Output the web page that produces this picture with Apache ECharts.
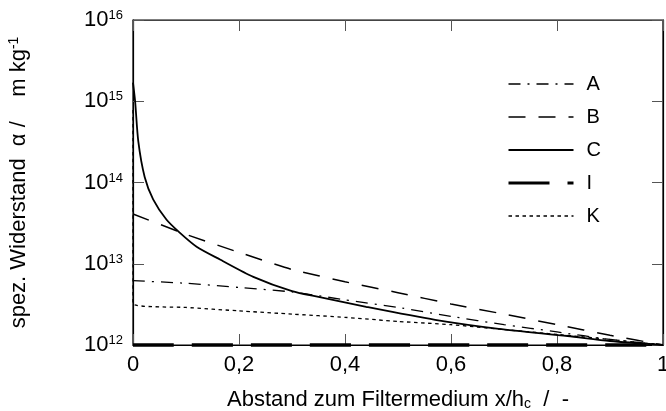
<!DOCTYPE html>
<html lang="de">
<head>
<meta charset="UTF-8">
<title>spez. Widerstand</title>
<script src="https://cdn.jsdelivr.net/npm/echarts@6/dist/echarts.min.js"></script>
<style>
  html, body { margin: 0; padding: 0; background: #fff; }
  #main { width: 666px; height: 411px; }
</style>
</head>
<body>
<div id="main"></div>
<script>
// x = Abstand zum Filtermedium x/hc, y = spez. Widerstand (log)
var seriesNames = ['A', 'B', 'C', 'I', 'K'];

var xA = [0, 0.1, 0.2, 0.3, 0.4, 0.5, 0.6, 0.7, 0.8, 0.9, 1.0];
var valA = [6.2e12, 5.75e12, 5.1e12, 4.5e12, 3.6e12, 2.9e12, 2.25e12, 1.78e12, 1.45e12, 1.17e12, 1.0e12];

var xB = [0, 0.1, 0.2, 0.3, 0.4, 0.5, 0.6, 0.7, 0.8, 0.9, 1.0];
var valB = [4.1e13, 2.3e13, 1.38e13, 8.5e12, 6.0e12, 4.4e12, 3.2e12, 2.4e12, 1.78e12, 1.32e12, 1.0e12];

var xC = [0, 0.004, 0.01, 0.022, 0.038, 0.063, 0.087, 0.12, 0.165, 0.227, 0.3, 0.35, 0.44, 0.57, 0.69, 0.82, 0.9, 1.0];
var valC = [1.7e15, 1.0e15, 3.2e14, 1.17e14, 6.2e13, 3.5e13, 2.45e13, 1.62e13, 1.12e13, 6.9e12, 4.6e12, 3.9e12, 2.95e12, 2.04e12, 1.58e12, 1.29e12, 1.12e12, 1.0e12];

var xI = [0, 1.0];
var valI = [1.0e12, 1.0e12];

var xK = [0, 0, 0.1, 0.2, 0.3, 0.4, 0.5, 0.6, 0.7, 0.8, 0.9, 1.0];
var valK = [7.8e14, 3.2e12, 2.9e12, 2.63e12, 2.4e12, 2.19e12, 1.95e12, 1.78e12, 1.55e12, 1.35e12, 1.17e12, 1.0e12];

var FONT = 'Liberation Sans';

function pairs(xs, ys) {
    return xs.map(function (x, i) { return [x, ys[i]]; });
}

// line looks per series
var looks = {
    A: { width: 1.3, type: [12, 7, 2, 7] },
    B: { width: 1.5, type: [17, 13] },
    C: { width: 1.8, type: 'solid' },
    I: { width: 3.5, type: [41, 18] },
    K: { width: 1.3, type: [3.5, 3.5] }
};
var xs = { A: xA, B: xB, C: xC, I: xI, K: xK };
var vals = { A: valA, B: valB, C: valC, I: valI, K: valK };

var chart = echarts.init(document.getElementById('main'), null, { renderer: 'canvas' });

var tickStyle = { show: true, inside: true, length: 11, lineStyle: { color: '#555', width: 1 } };

var option = {
    animation: false,
    backgroundColor: '#fff',
    textStyle: { fontFamily: FONT, color: '#000' },
    grid: {
        left: 133, right: 3, top: 20, bottom: 66,
        outerBoundsMode: 'none', containLabel: false,
        show: true, borderColor: '#000', borderWidth: 1.2, backgroundColor: 'transparent'
    },
    legend: {
        orient: 'vertical',
        left: 502,
        top: 69,
        itemWidth: 65,
        itemHeight: 10,
        itemGap: 13,
        itemStyle: { opacity: 0 },
        textStyle: { fontFamily: FONT, fontSize: 20, color: '#000', lineHeight: 20, padding: [0, 0, 0, 8] },
        data: seriesNames.map(function (n) {
            return { name: n, lineStyle: { color: '#000', width: Math.min(looks[n].width, 3), type: looks[n].type } };
        })
    },
    xAxis: [{
        type: 'value', min: 0, max: 1, interval: 0.2,
        position: 'bottom',
        name: 'Abstand zum Filtermedium x/h{sub|c}  /  -',
        nameLocation: 'middle', nameGap: 43,
        nameTextStyle: {
            fontFamily: FONT, fontSize: 22, color: '#000',
            rich: { sub: { fontFamily: FONT, fontSize: 14, verticalAlign: 'bottom', padding: [9, 0, 0, 0] } }
        },
        axisLine: { show: true, onZero: false, lineStyle: { color: '#000', width: 1.2 } },
        axisTick: tickStyle,
        axisLabel: {
            fontFamily: FONT, fontSize: 22, color: '#000', margin: 9,
            formatter: function (v) { return String(+v.toFixed(1)).replace('.', ','); }
        },
        splitLine: { show: false }
    }, {
        type: 'value', min: 0, max: 1, interval: 0.2,
        position: 'top',
        axisLine: { show: true, onZero: false, lineStyle: { color: '#444', width: 1.2 } },
        axisTick: tickStyle,
        axisLabel: { show: false },
        splitLine: { show: false }
    }],
    yAxis: [{
        type: 'log', logBase: 10, min: 1e12, max: 1e16,
        position: 'left',
        name: 'spez. Widerstand  \u03b1 /    m kg{sup|-1}',
        nameLocation: 'middle', nameRotate: 90, nameGap: 103,
        nameTextStyle: {
            fontFamily: FONT, fontSize: 22, color: '#000',
            rich: { sup: { fontFamily: FONT, fontSize: 14, verticalAlign: 'top', padding: [0, 0, 9, 0] } }
        },
        axisLine: { show: true, onZero: false, lineStyle: { color: '#000', width: 1.2 } },
        axisTick: tickStyle,
        minorTick: { show: false },
        axisLabel: {
            fontFamily: FONT, color: '#000', margin: 10,
            formatter: function (v) {
                return '{b|10}{e|' + Math.round(Math.log10(v)) + '}';
            },
            rich: {
                b: { fontFamily: FONT, fontSize: 22, color: '#000' },
                e: { fontFamily: FONT, fontSize: 13, color: '#000', verticalAlign: 'top', padding: [0, 0, 9, 0] }
            }
        },
        splitLine: { show: false }
    }, {
        type: 'log', logBase: 10, min: 1e12, max: 1e16,
        position: 'right',
        axisLine: { show: true, onZero: false, lineStyle: { color: '#000', width: 1.2 } },
        axisTick: tickStyle,
        axisLabel: { show: false },
        splitLine: { show: false }
    }],
    series: seriesNames.map(function (n) {
        return {
            name: n,
            type: 'line',
            xAxisIndex: 0,
            yAxisIndex: 0,
            showSymbol: false,
            symbol: 'none',
            clip: false,
            smooth: n === 'C' ? 0.25 : 0.15,
            color: '#000',
            lineStyle: { color: '#000', width: looks[n].width, type: looks[n].type },
            data: pairs(xs[n], vals[n])
        };
    })
};

chart.setOption(option);
</script>
</body>
</html>
